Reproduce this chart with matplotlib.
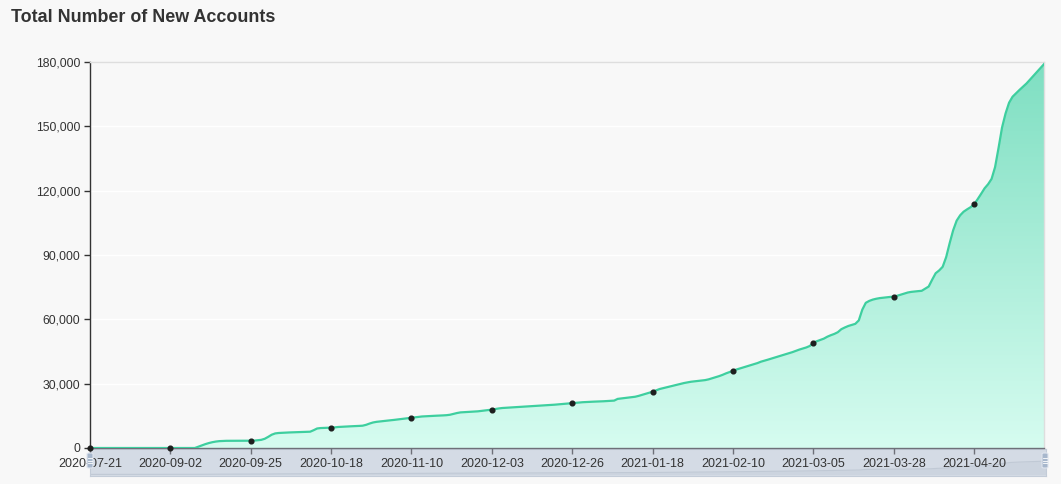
import numpy as np
import pandas as pd
import matplotlib
matplotlib.use("Agg")
import matplotlib.pyplot as plt
from matplotlib.colors import LinearSegmentedColormap
from matplotlib.patches import FancyBboxPatch
from matplotlib.ticker import FuncFormatter, MultipleLocator

plt.rcParams["font.family"] = ["Liberation Sans", "DejaVu Sans"]

# Categories: the first snapshot, then one entry per day
first_date = "2020-07-21"
daily_start = "2020-08-11"
daily_end = "2021-05-10"
dates = [first_date] + [d.strftime("%Y-%m-%d")
                        for d in pd.date_range(daily_start, daily_end)]

# Cumulative number of new accounts per category
accounts = [
    0, 0, 0, 0, 0, 0, 0, 0, 0, 0,
    0, 0, 0, 0, 0, 0, 0, 0, 0, 0,
    0, 0, 0, 0, 0, 0, 0, 0, 0, 0,
    0, 600, 1200, 1800, 2300, 2700, 3000, 3200, 3300, 3350,
    3350, 3350, 3400, 3400, 3400, 3400, 3400, 3450, 3600, 3800,
    4300, 5200, 6200, 6800, 7000, 7100, 7200, 7250, 7300, 7350,
    7400, 7450, 7500, 7600, 8300, 9100, 9300, 9350, 9400, 9500,
    9600, 9800, 9900, 10000, 10100, 10150, 10200, 10300, 10400, 10800,
    11400, 11900, 12200, 12400, 12600, 12750, 12900, 13100, 13300, 13500,
    13700, 13900, 14100, 14300, 14500, 14700, 14800, 14900, 15000, 15050,
    15100, 15200, 15300, 15500, 15900, 16300, 16600, 16700, 16800, 16900,
    17000, 17100, 17300, 17500, 17700, 17900, 18200, 18450, 18650, 18750,
    18850, 18950, 19050, 19150, 19250, 19350, 19400, 19500, 19600, 19700,
    19850, 20000, 20100, 20200, 20350, 20500, 20650, 20800, 21000, 21150,
    21250, 21350, 21450, 21500, 21600, 21650, 21700, 21800, 21900, 22000,
    22100, 22900, 23100, 23300, 23450, 23650, 23900, 24300, 24800, 25300,
    25800, 26250, 26900, 27500, 27900, 28300, 28700, 29100, 29500, 29900,
    30300, 30600, 30900, 31100, 31300, 31500, 31650, 32000, 32500, 33000,
    33500, 34100, 34800, 35400, 36050, 36600, 37100, 37600, 38100, 38600,
    39100, 39600, 40250, 40700, 41200, 41700, 42200, 42700, 43200, 43700,
    44200, 44700, 45300, 45900, 46400, 46900, 47600, 49100, 49800, 50400,
    51000, 51900, 52600, 53200, 54000, 55400, 56200, 56900, 57400, 57900,
    59500, 64500, 67700, 68600, 69200, 69600, 69900, 70100, 70300, 70450,
    70600, 71000, 71500, 72000, 72500, 72800, 73000, 73150, 73300, 74300,
    75300, 78500, 81500, 82800, 84500, 89000, 95500, 101500, 106000, 108500,
    110200, 111300, 112300, 113600, 116000, 118500, 121100, 123000, 125500, 131000,
    140000, 149500, 156000, 161000, 163800, 165400, 167000, 168500, 170000, 171800,
    173600, 175400, 177200, 179000,
]
assert len(accounts) == len(dates)

title = "Total Number of New Accounts"
y_max = 180000
y_step = 30000
label_every = 23

W, H = 1061, 484
bg = "#f8f8f8"
line_color = "#3ecf9f"
fill_top = "#7fdfc2"
fill_bottom = "#d6fcf0"

fig = plt.figure(figsize=(W / 100, H / 100), dpi=100, facecolor=bg)

# main plot area
left, right, top, bottom = 90, 1044, 62, 448
ax = fig.add_axes([left / W, 1 - bottom / H, (right - left) / W, (bottom - top) / H],
                  zorder=2)
ax.set_facecolor(bg)

x = np.arange(len(accounts))
vals = np.array(accounts, dtype=float)

# gradient area under the curve
poly = ax.fill_between(x, vals, 0, facecolor="none", edgecolor="none")
cmap = LinearSegmentedColormap.from_list("area", [fill_bottom, fill_top])
grad = np.linspace(0, 1, 256).reshape(-1, 1)
im = ax.imshow(grad, extent=[x[0], x[-1], 0, vals.max()], origin="lower",
               aspect="auto", cmap=cmap, zorder=1, interpolation="bilinear")
im.set_clip_path(poly.get_paths()[0], transform=ax.transData)

ax.plot(x, vals, color=line_color, lw=1.6, zorder=3, solid_joinstyle="round")
ax.plot(x[::label_every], vals[::label_every], "o", color="#1e1e1e",
        ms=3.4, zorder=4, clip_on=False)

ax.set_xlim(x[0], x[-1])
ax.set_ylim(0, y_max)

ax.yaxis.set_major_locator(MultipleLocator(y_step))
ax.yaxis.set_major_formatter(FuncFormatter(lambda v, p: f"{int(v):,}"))
ax.set_xticks(x[::label_every])
ax.set_xticklabels([dates[i] for i in x[::label_every]])

ax.yaxis.grid(True, color="white", lw=1.0, zorder=0)
ax.set_axisbelow(True)

for s in ("top", "right"):
    ax.spines[s].set_color("#dedede")
    ax.spines[s].set_linewidth(1.0)
ax.spines["left"].set_color("#333333")
ax.spines["left"].set_linewidth(1.0)
ax.spines["bottom"].set_color("#6e7079")
ax.spines["bottom"].set_linewidth(1.0)

ax.tick_params(axis="y", length=4, width=1, color="#333333", pad=3,
               labelsize=8.8, labelcolor="#333333")
ax.tick_params(axis="x", length=4, width=1, color="#6e7079", pad=3,
               labelsize=9, labelcolor="#333333")

# range slider below the axis
sl_left, sl_right, sl_top, sl_bottom = 90, 1046, 449, 476
ax_s = fig.add_axes([sl_left / W, 1 - sl_bottom / H, (sl_right - sl_left) / W,
                     (sl_bottom - sl_top) / H], zorder=1)
ax_s.set_facecolor("#d4dbe5")
ax_s.fill_between(x, vals, 0, color="#ccd4df", lw=0)
ax_s.plot(x, vals, color="#c0c9d5", lw=0.8)
ax_s.set_xlim(x[0], x[-1])
ax_s.set_ylim(-y_max * 0.12, y_max * 1.9)
ax_s.set_xticks([])
ax_s.set_yticks([])
for s in ax_s.spines.values():
    s.set_color("#c3ccd8")
    s.set_linewidth(0.8)

# slider handles
for hx in (sl_left, sl_right - 1):
    handle = FancyBboxPatch(((hx - 3) / W, 1 - 468 / H), 6 / W, 15 / H,
                            boxstyle="round,pad=0,rounding_size=0.002",
                            transform=fig.transFigure, facecolor="#a7b7cc",
                            edgecolor="#dfe5ee", lw=0.8, zorder=5)
    fig.patches.append(handle)
    for dy in (-2.5, 0, 2.5):
        fig.lines.append(plt.Line2D([(hx - 1.8) / W, (hx + 1.8) / W],
                                    [1 - (460.5 + dy) / H] * 2,
                                    transform=fig.transFigure, color="white",
                                    lw=0.6, zorder=6))

fig.text(11 / W, 1 - 17 / H, title, fontsize=12.9, fontweight="bold",
         color="#333333", va="center", ha="left")

fig.savefig("out.png", dpi=100, facecolor=bg)
